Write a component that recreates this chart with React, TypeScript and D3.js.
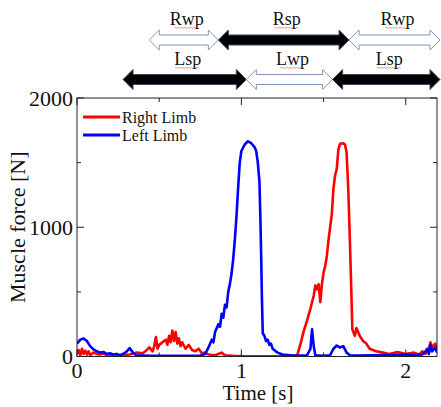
import * as d3 from 'd3'

// ---- data ----
const blueT = [0, 0.02, 0.04, 0.06, 0.08, 0.1, 0.12, 0.14, 0.16, 0.18, 0.2, 0.22, 0.24, 0.26, 0.28, 0.3, 0.32, 0.34, 0.36, 0.4, 0.45, 0.5, 0.55, 0.6, 0.65, 0.7, 0.75, 0.78, 0.8, 0.82, 0.83, 0.84, 0.86, 0.87, 0.88, 0.89, 0.9, 0.91, 0.92, 0.93, 0.94, 0.95, 0.96, 0.97, 0.98, 0.99, 1.0, 1.02, 1.04, 1.06, 1.08, 1.09, 1.1, 1.11, 1.115, 1.12, 1.125, 1.13, 1.14, 1.15, 1.16, 1.17, 1.18, 1.19, 1.2, 1.22, 1.25, 1.3, 1.35, 1.4, 1.42, 1.43, 1.44, 1.45, 1.5, 1.54, 1.56, 1.58, 1.6, 1.62, 1.64, 1.66, 1.7, 1.8, 1.9, 2.0, 2.05, 2.1, 2.12, 2.13, 2.14, 2.15, 2.16, 2.18, 2.19]
const blueF = [100, 130, 140, 120, 80, 55, 40, 30, 35, 20, 25, 15, 20, 10, 20, 35, 65, 30, 10, 8, 5, 5, 5, 5, 5, 5, 8, 20, 70, 130, 110, 190, 250, 230, 330, 300, 400, 380, 500, 560, 640, 750, 900, 1080, 1300, 1500, 1590, 1640, 1665, 1650, 1620, 1590, 1500, 1350, 1100, 800, 450, 180, 160, 120, 130, 90, 100, 60, 50, 30, 15, 10, 8, 10, 60, 210, 80, 10, 5, 10, 60, 85, 70, 80, 30, 10, 8, 10, 12, 15, 10, 15, 40, 60, 20, 90, 40, 70, 30]

const redT = [0, 0.01, 0.02, 0.03, 0.04, 0.05, 0.06, 0.07, 0.08, 0.1, 0.12, 0.14, 0.16, 0.18, 0.2, 0.24, 0.28, 0.32, 0.36, 0.4, 0.42, 0.44, 0.46, 0.47, 0.48, 0.49, 0.5, 0.52, 0.54, 0.55, 0.56, 0.57, 0.58, 0.59, 0.6, 0.61, 0.62, 0.63, 0.64, 0.66, 0.68, 0.7, 0.72, 0.74, 0.76, 0.78, 0.8, 0.84, 0.88, 0.9, 0.95, 1.0, 1.1, 1.2, 1.3, 1.34, 1.36, 1.38, 1.4, 1.42, 1.44, 1.45, 1.46, 1.47, 1.48, 1.49, 1.5, 1.51, 1.52, 1.53, 1.54, 1.55, 1.56, 1.57, 1.58, 1.59, 1.6, 1.62, 1.63, 1.64, 1.65, 1.66, 1.67, 1.675, 1.69, 1.7, 1.72, 1.74, 1.76, 1.78, 1.8, 1.82, 1.86, 1.9, 1.95, 2.0, 2.05, 2.08, 2.1, 2.12, 2.14, 2.15, 2.16, 2.18, 2.19]
const redF = [20, 50, 10, 60, 20, 45, 15, 40, 10, 30, 20, 15, 25, 10, 15, 5, 10, 15, 30, 25, 45, 70, 40, 80, 150, 60, 90, 110, 130, 90, 160, 110, 200, 120, 190, 100, 140, 80, 110, 60, 90, 50, 40, 60, 25, 30, 15, 10, 30, 10, 5, 3, 2, 2, 3, 10, 100, 200, 280, 370, 470, 550, 520, 560, 420, 560, 650, 700, 780, 900, 1000, 1100, 1300, 1400, 1450, 1600, 1645, 1650, 1640, 1580, 1300, 900, 450, 210, 160, 220, 160, 120, 100, 60, 50, 40, 30, 20, 35, 20, 30, 15, 40, 20, 60, 110, 70, 100, 50]

// gait phases shown as arrows above the plot [start, end] in seconds
const rightLabels = ['Rwp', 'Rsp', 'Rwp']
const rightStart = [0.44, 0.86, 1.655]
const rightEnd = [0.86, 1.655, 2.21]
const rightSolid = [false, true, false]
const leftLabels = ['Lsp', 'Lwp', 'Lsp']
const leftStart = [0.28, 1.03, 1.555]
const leftEnd = [1.03, 1.555, 2.21]
const leftSolid = [true, false, true]

const yTicks = [0, 1000, 2000]
const yMinor = [500, 1500]
const xTicks = [0, 1, 2]
const xMinor = [0.5, 1.5]

const W = 441
const H = 407
const margin = { top: 98, right: 4, bottom: 50.5, left: 77 }
const font = 'Liberation Serif'

const arrowPath = (x1: number, x2: number, cy: number) => {
  const hl = 10, hh = 10, sh = 5
  return `M${x1},${cy} L${x1 + hl},${cy - hh} L${x1 + hl},${cy - sh} L${x2 - hl},${cy - sh} L${x2 - hl},${cy - hh} L${x2},${cy} L${x2 - hl},${cy + hh} L${x2 - hl},${cy + sh} L${x1 + hl},${cy + sh} L${x1 + hl},${cy + hh} Z`
}

const squiggle = (x1: number, x2: number, y: number) => {
  let p = `M${x1},${y}`
  let up = true
  for (let x = x1 + 1.5; x <= x2; x += 1.5) {
    p += ` L${x},${up ? y - 1 : y + 0.6}`
    up = !up
  }
  return p
}

export default function App() {
  const x = d3.scaleLinear().domain([0, 2.19]).range([margin.left, W - margin.right])
  const y = d3.scaleLinear().domain([0, 2000]).range([H - margin.bottom, margin.top])
  const x0 = margin.left
  const x1 = W - margin.right
  const y0 = H - margin.bottom
  const y1 = margin.top

  const mk = (ts: number[], fs: number[]) =>
    d3
      .line<number>()
      .x((d) => x(d))
      .y((_, i) => y(fs[i]))(ts) as string

  const txt = { fontFamily: font, fill: '#111' }

  const row = (labels: string[], st: number[], en: number[], solid: boolean[], cy: number, ty: number) =>
    labels.map((lab, i) => {
      const a = x(st[i])
      const b = Math.min(x(en[i]), W - 1)
      const cx = (a + b) / 2 + 3
      const tw = lab.length * 8.4
      return (
        <g key={lab + i}>
          <path
            d={arrowPath(a, b, cy)}
            fill={solid[i] ? '#000' : '#fff'}
            stroke={solid[i] ? '#3b4a5e' : '#8497b0'}
            strokeWidth={1}
          />
          <text x={cx} y={ty} textAnchor="middle" style={{ ...txt, fontSize: 18 }}>
            {lab}
          </text>
          <path d={squiggle(cx - tw / 2, cx + tw / 2, ty + 3)} fill="none" stroke="#e03030" strokeWidth={0.7} opacity={0.7} />
        </g>
      )
    })

  return (
    <svg width={W} height={H} style={{ position: 'absolute', left: 0, top: 0, background: '#fff' }}>
      <rect width={W} height={H} fill="#fff" />
      {row(rightLabels, rightStart, rightEnd, rightSolid, 40, 25)}
      {row(leftLabels, leftStart, leftEnd, leftSolid, 79.5, 65)}

      <defs>
        <clipPath id="plot">
          <rect x={x0} y={y1 - 2} width={x1 - x0} height={y0 - y1 + 2} />
        </clipPath>
      </defs>
      <g clipPath="url(#plot)">
        <path d={mk(redT, redF)} fill="none" stroke="#ff0000" strokeWidth={2.6} strokeLinejoin="round" />
        <path d={mk(blueT, blueF)} fill="none" stroke="#0000ff" strokeWidth={2.6} strokeLinejoin="round" />
      </g>

      {/* frame */}
      <rect x={x0} y={y1} width={x1 - x0} height={y0 - y1} fill="none" stroke="#222" strokeWidth={1} />

      {/* y ticks */}
      {yTicks.map((t) => (
        <g key={'y' + t}>
          <line x1={x0} x2={x0 + 7} y1={y(t)} y2={y(t)} stroke="#222" />
          <line x1={x1} x2={x1 - 7} y1={y(t)} y2={y(t)} stroke="#222" />
          <text x={x0 - 4} y={y(t)} dy="0.35em" textAnchor="end" style={{ ...txt, fontSize: 22 }}>
            {t}
          </text>
        </g>
      ))}
      {yMinor.map((t) => (
        <g key={'ym' + t}>
          <line x1={x0} x2={x0 + 4} y1={y(t)} y2={y(t)} stroke="#222" />
          <line x1={x1} x2={x1 - 4} y1={y(t)} y2={y(t)} stroke="#222" />
        </g>
      ))}

      {/* x ticks */}
      {xTicks.map((t) => (
        <g key={'x' + t}>
          <line x1={x(t)} x2={x(t)} y1={y0} y2={y0 - 7} stroke="#222" />
          <line x1={x(t)} x2={x(t)} y1={y1} y2={y1 + 7} stroke="#222" />
          <text x={x(t)} y={378} textAnchor="middle" style={{ ...txt, fontSize: 22 }}>
            {t}
          </text>
        </g>
      ))}
      {xMinor.map((t) => (
        <g key={'xm' + t}>
          <line x1={x(t)} x2={x(t)} y1={y0} y2={y0 - 4} stroke="#222" />
          <line x1={x(t)} x2={x(t)} y1={y1} y2={y1 + 4} stroke="#222" />
        </g>
      ))}

      <text x={(x0 + x1) / 2 + 1} y={400} textAnchor="middle" style={{ ...txt, fontSize: 21 }}>
        Time [s]
      </text>
      <text transform={`translate(25,${(y0 + y1) / 2}) rotate(-90)`} textAnchor="middle" style={{ ...txt, fontSize: 22 }}>
        Muscle force [N]
      </text>

      {/* legend */}
      <line x1={83} x2={120} y1={117} y2={117} stroke="#ff0000" strokeWidth={3} />
      <text x={122} y={123} style={{ ...txt, fontSize: 16 }}>
        Right Limb
      </text>
      <line x1={83} x2={120} y1={135} y2={135} stroke="#0000ff" strokeWidth={3} />
      <text x={122} y={141} style={{ ...txt, fontSize: 16 }}>
        Left Limb
      </text>
    </svg>
  )
}
